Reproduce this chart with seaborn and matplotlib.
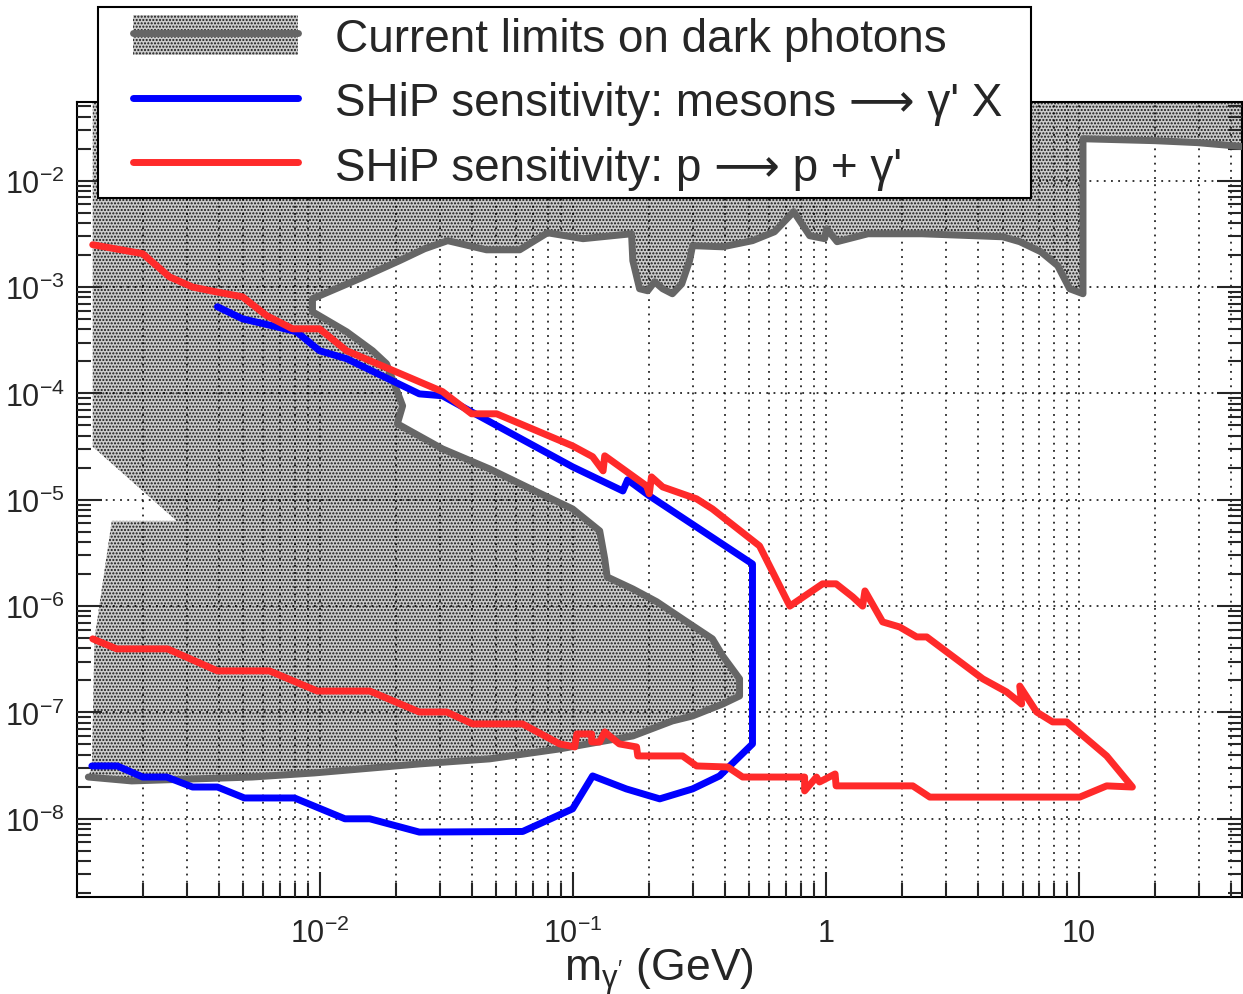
import math

import matplotlib
matplotlib.use("Agg")
import matplotlib.pyplot as plt
import seaborn as sns
from matplotlib import ticker
from matplotlib.lines import Line2D
from matplotlib.patches import Patch, Rectangle
from matplotlib.legend_handler import HandlerTuple

# values: dark photon mass (GeV) and kinetic mixing

# outline of the current limits: lower edge -> tongue tip -> upper edge
limit_mass = [1.22e-3, 1.81e-3, 5.43e-3, 9.55e-3, 2.48e-2, 4.70e-2, 8.89e-2, 0.173,
              0.248, 0.298, 0.392, 0.457, 0.457, 0.392, 0.357, 0.283, 0.215, 0.173,
              0.137, 0.134, 0.128, 0.100, 7.21e-2, 4.70e-2, 3.06e-2, 2.03e-2, 2.13e-2,
              2.01e-2, 1.84e-2, 1.62e-2, 1.28e-2, 9.38e-3, 9.38e-3, 1.44e-2, 2.07e-2,
              2.60e-2, 3.21e-2, 4.57e-2, 6.18e-2, 7.96e-2, 0.110, 0.171, 0.173, 0.184,
              0.198, 0.211, 0.227, 0.248, 0.270, 0.290, 0.298, 0.392, 0.514, 0.628,
              0.748, 0.865, 0.991, 1.01, 1.11, 1.47, 2.40, 5.01, 5.85, 7.08, 8.26,
              9.21, 10.4, 10.4, 19.95, 29.5, 45.0]
limit_eps = [2.47e-8, 2.27e-8, 2.47e-8, 2.70e-8, 3.28e-8, 3.66e-8, 4.54e-8, 6.01e-8,
             8.32e-8, 9.27e-8, 1.20e-7, 1.43e-7, 2.07e-7, 3.40e-7, 4.92e-7, 7.1e-7,
             1.10e-6, 1.45e-6, 1.88e-6, 2.78e-6, 5.1e-6, 8.2e-6, 1.19e-5, 1.95e-5,
             3.01e-5, 5.18e-5, 7.64e-5, 1.10e-4, 1.90e-4, 2.52e-4, 3.80e-4, 5.86e-4,
             7.76e-4, 1.20e-3, 1.77e-3, 2.29e-3, 2.73e-3, 2.24e-3, 2.24e-3, 3.24e-3,
             2.85e-3, 3.17e-3, 1.77e-3, 9.64e-4, 9.23e-4, 1.12e-3, 9.64e-4, 8.65e-4,
             1.07e-3, 1.77e-3, 2.45e-3, 2.39e-3, 2.73e-3, 3.31e-3, 5.11e-3, 3.04e-3,
             2.85e-3, 3.53e-3, 2.67e-3, 3.17e-3, 3.17e-3, 2.97e-3, 2.67e-3, 2.15e-3,
             1.59e-3, 9.64e-4, 8.65e-4, 2.48e-2, 2.38e-2, 2.28e-2, 2.09e-2]

# left edge of the shaded area, with the uncovered wedge near 1e-5
edge_mass = [1.27e-3, 1.27e-3, 3.21e-3, 2.72e-3, 1.51e-3, 1.29e-3, 1.26e-3]
edge_eps = [1.0, 3.15e-5, 4.48e-6, 6.33e-6, 6.33e-6, 4.92e-7, 3.14e-8]

# SHiP sensitivity, meson decays
meson_mass = [3.95e-3, 4.96e-3, 6.76e-3, 8.11e-3, 1.0e-2, 1.28e-2, 2.48e-2, 3.06e-2,
              3.92e-2, 0.100, 0.158, 0.165, 0.201, 0.514, 0.514, 0.381, 0.298, 0.221,
              0.163, 0.120, 0.100, 0.0635, 0.0248, 0.0158, 0.0126, 7.96e-3, 5.05e-3,
              3.95e-3, 3.15e-3, 2.49e-3, 2.0e-3, 1.59e-3, 1.26e-3]
meson_eps = [6.53e-4, 5.03e-4, 4.23e-4, 3.80e-4, 2.52e-4, 2.12e-4, 9.9e-5, 9.5e-5,
             6.86e-5, 2.04e-5, 1.21e-5, 1.54e-5, 1.09e-5, 2.49e-6, 5.06e-8, 2.53e-8,
             1.91e-8, 1.54e-8, 1.91e-8, 2.53e-8, 1.24e-8, 7.6e-9, 7.5e-9, 1.0e-8,
             1.0e-8, 1.57e-8, 1.57e-8, 1.99e-8, 1.99e-8, 2.47e-8, 2.47e-8, 3.14e-8,
             3.14e-8]

# SHiP sensitivity, proton bremsstrahlung
brem_mass = [1.27e-3, 2.0e-3, 2.55e-3, 3.15e-3, 3.92e-3, 4.96e-3, 6.17e-3, 7.82e-3,
             1.0e-2, 1.28e-2, 3.06e-2, 3.99e-2, 5.01e-2, 0.100, 0.120, 0.132, 0.134,
             0.196, 0.201, 0.205, 0.227, 0.309, 0.357, 0.548, 0.722, 0.973, 1.10,
             1.28, 1.40, 1.43, 1.68, 1.96, 2.29, 2.51, 4.18, 5.19, 5.95, 5.85, 6.82,
             7.89, 8.97, 12.9, 16.3, 12.9, 10.1, 2.58, 2.21, 1.10, 1.09, 0.946, 0.920,
             0.826, 0.826, 0.470, 0.410, 0.309, 0.272, 0.181, 0.179, 0.153, 0.134,
             0.128, 0.119, 0.119, 0.104, 0.102, 0.0889, 0.0634, 0.0403, 0.0318,
             0.0248, 0.0158, 0.0098, 6.34e-3, 3.95e-3, 2.51e-3, 1.58e-3, 1.27e-3]
brem_eps = [2.50e-3, 2.06e-3, 1.25e-3, 1.0e-3, 9.0e-4, 8.1e-4, 5.4e-4, 4.05e-4,
            4.05e-4, 2.52e-4, 1.04e-4, 6.43e-5, 6.43e-5, 3.21e-5, 2.54e-5, 1.87e-5,
            2.59e-5, 1.35e-5, 1.14e-5, 1.64e-5, 1.32e-5, 1.02e-5, 8.2e-6, 3.68e-6,
            1.0e-6, 1.62e-6, 1.62e-6, 1.22e-6, 1.0e-6, 1.39e-6, 7.1e-7, 6.37e-7,
            5.13e-7, 5.13e-7, 2.07e-7, 1.56e-7, 1.20e-7, 1.77e-7, 1.01e-7, 8.15e-8,
            8.15e-8, 3.90e-8, 1.99e-8, 2.04e-8, 1.60e-8, 1.60e-8, 2.04e-8, 2.04e-8,
            2.64e-8, 2.22e-8, 2.47e-8, 1.83e-8, 2.47e-8, 2.47e-8, 3.07e-8, 3.14e-8,
            3.90e-8, 3.90e-8, 4.74e-8, 5.06e-8, 6.56e-8, 5.28e-8, 5.28e-8, 6.28e-8,
            6.28e-8, 4.74e-8, 5.06e-8, 7.80e-8, 7.80e-8, 1.01e-7, 1.01e-7, 1.59e-7,
            1.59e-7, 2.46e-7, 2.46e-7, 3.96e-7, 3.96e-7, 4.92e-7]

legend_labels = [
    "Current limits on dark photons",
    "SHiP sensitivity: mesons \u27f6 \u03b3' X",
    "SHiP sensitivity: p \u27f6 p + \u03b3'",
]

x_range = (1.1e-3, 44.0)
y_range = (1.84e-9, 5.5e-2)

fill_bg = "#cbcbcb"
dot_color = "#151515"
limit_color = "#666666"
meson_color = "#0000ff"
brem_color = "#ff2a2a"

sns.set_style("ticks")
plt.rcParams["font.family"] = ["Liberation Sans", "DejaVu Sans"]
plt.rcParams["mathtext.fontset"] = "custom"
plt.rcParams["mathtext.rm"] = "Liberation Sans"
plt.rcParams["mathtext.it"] = "Liberation Sans:italic"
plt.rcParams["hatch.linewidth"] = 1.0

fig = plt.figure(figsize=(12.43, 9.95), dpi=100)
ax = fig.add_axes([0.0619, 0.0975, 0.9369, 0.799])
ax.set_xscale("log")
ax.set_yscale("log")
ax.set_xlim(*x_range)
ax.set_ylim(*y_range)

# excluded region
ax.fill(edge_mass + limit_mass + [limit_mass[-1]],
        edge_eps + limit_eps + [edge_eps[0]],
        facecolor=fill_bg, edgecolor=dot_color, hatch=".....",
        linewidth=0, zorder=1)

sns.lineplot(x=limit_mass, y=limit_eps, sort=False, estimator=None, ax=ax,
             color=limit_color, linewidth=5, legend=False, zorder=3,
             solid_joinstyle="round")
sns.lineplot(x=meson_mass, y=meson_eps, sort=False, estimator=None, ax=ax,
             color=meson_color, linewidth=5, legend=False, zorder=4,
             solid_joinstyle="round")
sns.lineplot(x=brem_mass, y=brem_eps, sort=False, estimator=None, ax=ax,
             color=brem_color, linewidth=5, legend=False, zorder=5,
             solid_joinstyle="round")
ax.set_ylabel("")


def power_label(v, pos):
    if v >= 1:
        return f"{v:g}"
    return r"$\mathregular{10^{%d}}$" % round(math.log10(v))


def decades(lo, hi):
    return [10.0 ** k for k in range(math.ceil(math.log10(lo)), math.floor(math.log10(hi)) + 1)]


for axis, rng in ((ax.xaxis, x_range), (ax.yaxis, y_range)):
    axis.set_major_locator(ticker.FixedLocator(decades(*rng)))
    axis.set_minor_locator(ticker.LogLocator(base=10, subs=range(2, 10), numticks=60))
    axis.set_minor_formatter(ticker.NullFormatter())
    axis.set_major_formatter(ticker.FuncFormatter(power_label))

ax.tick_params(axis="x", which="both", direction="in", bottom=True, top=False,
               width=1.5, labelsize=22, pad=15)
ax.tick_params(axis="y", which="both", direction="in", left=True, right=True,
               width=1.5, labelsize=22, pad=9)
ax.tick_params(which="major", length=18)
ax.tick_params(which="minor", length=10)
for sp in ax.spines.values():
    sp.set_linewidth(1.5)
    sp.set_color("black")

ax.set_axisbelow(False)
grid_style = dict(color="black", linestyle=(0, (1.2, 3.5)), linewidth=1.1)
ax.grid(True, which="both", axis="x", **grid_style)
ax.grid(True, which="major", axis="y", **grid_style)

ax.set_xlabel(r"m$_{\mathregular{\gamma'}}$ (GeV)", fontsize=32)
ax.xaxis.set_label_coords(0.5, -0.060)

# legend box sitting over the top of the frame
fig.patches.append(Rectangle((98 / 1243, 1 - 199 / 995), 933 / 1243, 191 / 995,
                             transform=fig.transFigure, facecolor="white",
                             edgecolor="black", linewidth=1.5, zorder=4))
handles = [
    (Patch(facecolor=fill_bg, edgecolor=dot_color, hatch=".....", linewidth=0),
     Line2D([], [], color=limit_color, linewidth=5)),
    Line2D([], [], color=meson_color, linewidth=5),
    Line2D([], [], color=brem_color, linewidth=5),
]
leg = fig.legend(handles, legend_labels, loc="upper left",
                 bbox_to_anchor=(133 / 1243, 1 - 16 / 995),
                 frameon=False, borderpad=0, borderaxespad=0,
                 handlelength=3.6, handletextpad=0.8, handleheight=0.95,
                 labelspacing=0.42, fontsize=33,
                 handler_map={tuple: HandlerTuple(ndivide=1, pad=0)})
leg.set_zorder(6)

fig.savefig("out.png", dpi=100)
